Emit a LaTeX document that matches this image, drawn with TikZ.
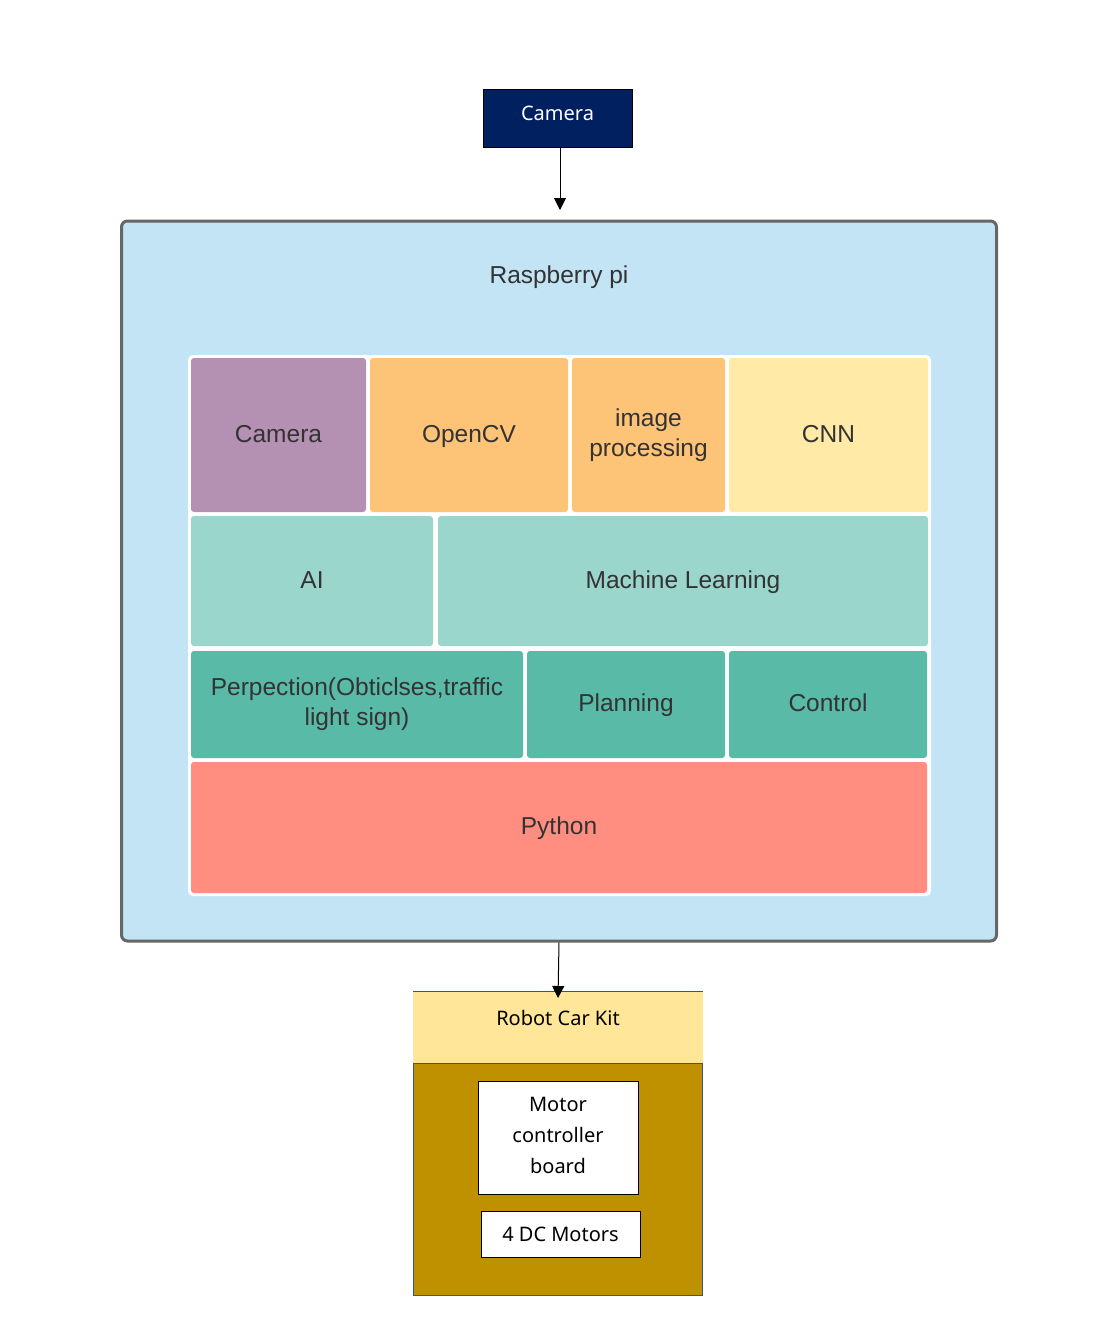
\documentclass[tikz,border=0pt]{standalone}
\usepackage{fontspec}
\usetikzlibrary{arrows.meta}
\newfontfamily\lucid{Liberation Sans}
\newfontfamily\office{Noto Sans}
\definecolor{navy}{RGB}{0,32,96}
\definecolor{rpiblue}{RGB}{194,228,245}
\definecolor{rpiedge}{RGB}{102,102,102}
\definecolor{txtgray}{RGB}{51,51,51}
\definecolor{campurple}{RGB}{180,145,178}
\definecolor{cvorange}{RGB}{253,195,119}
\definecolor{cnnyellow}{RGB}{255,234,167}
\definecolor{mlmint}{RGB}{155,214,204}
\definecolor{pcteal}{RGB}{89,186,167}
\definecolor{pysalmon}{RGB}{255,141,128}
\definecolor{kityellow}{RGB}{255,230,153}
\definecolor{kitgold}{RGB}{191,144,0}
\definecolor{kitedge}{RGB}{47,85,151}
\begin{document}
\begin{tikzpicture}[x=1pt,y=-1pt,
    cell/.style={rectangle,rounded corners=3pt,inner sep=0pt,text=txtgray,align=center,font=\lucid\fontsize{24.5}{30}\selectfont},
    oneline/.style={text height=19pt,text depth=5pt},
    plainbox/.style={rectangle,draw=black,line width=0.8pt,fill=white,inner sep=0pt,align=center,font=\office\fontsize{20}{31}\selectfont},
    arr/.style={line width=1pt,-{Triangle[width=12pt,length=12pt]}}]
                \useasboundingbox (0,0) rectangle (1093,1322);
                %camera on top
                \node[rectangle,draw=black,line width=0.8pt,fill=navy,text=white,font=\office\fontsize{20}{24}\selectfont,text height=15pt,text depth=10pt,minimum width=149,minimum height=58] (camtop) at (557.5,118) {Camera};
                \coordinate (rpiin) at (560,210);
                \draw[arr] (rpiin |- camtop.south) -- (rpiin);
                %raspberry pi board
                \node[rectangle,draw=rpiedge,line width=3pt,fill=rpiblue,rounded corners=6pt,minimum width=875,minimum height=720] (rpi) at (559,581) {};
                \node[text=txtgray,font=\lucid\fontsize{24.5}{30}\selectfont] (rpititle) at (559,277) {Raspberry pi};
                \node[fill=white,rounded corners=5pt,minimum width=743,minimum height=541] (grid) at (559.5,625.5) {};
                %first row
                \node[cell,oneline,fill=campurple,minimum width=175,minimum height=154] (cam) at (278.5,435) {Camera};
                \node[cell,oneline,fill=cvorange,minimum width=198,minimum height=154] (opencv) at (469,435) {OpenCV};
                \node[cell,fill=cvorange,minimum width=153,minimum height=154] (imgproc) at (648.5,435) {image\\processing};
                \node[cell,oneline,fill=cnnyellow,minimum width=199,minimum height=154] (cnn) at (828.5,435) {CNN};
                %second row
                \node[cell,oneline,fill=mlmint,minimum width=242,minimum height=130] (ai) at (312,581) {AI};
                \node[cell,oneline,fill=mlmint,minimum width=490,minimum height=130] (ml) at (683,581) {Machine Learning};
                %third row
                \node[cell,fill=pcteal,minimum width=332,minimum height=107] (perc) at (357,704.5) {Perpection(Obticlses,traffic\\light sign)};
                \node[cell,oneline,fill=pcteal,minimum width=198,minimum height=107] (plan) at (626,704.5) {Planning};
                \node[cell,oneline,fill=pcteal,minimum width=198,minimum height=107] (ctrl) at (828,704.5) {Control};
                %fourth row
                \node[cell,oneline,fill=pysalmon,minimum width=736,minimum height=131] (py) at (559,827.5) {Python};
                %robot car kit
                \coordinate (kitin) at (558,998);
                \node[rectangle,draw=kitedge,line width=1pt,fill=kitgold,minimum width=289,minimum height=232] (kitbody) at (558,1179) {};
                \node[rectangle,fill=kityellow,minimum width=290,minimum height=71] (kithead) at (558,1027.5) {};
                \draw[kitedge,line width=1pt] (kithead.north west) -- (kithead.north east);
                \node[font=\office\fontsize{20}{24}\selectfont] (kittitle) at (558,1018) {Robot Car Kit};
                \draw[arr] (rpi.south) -- (kitin);
                \node[plainbox,minimum width=160,minimum height=113] (motor) at (558,1137.5) {Motor\\controller\\board\vphantom{y}};
                \node[plainbox,minimum width=159,minimum height=46] (dc) at (560.5,1234) {4 DC Motors};
\end{tikzpicture}
\end{document}
